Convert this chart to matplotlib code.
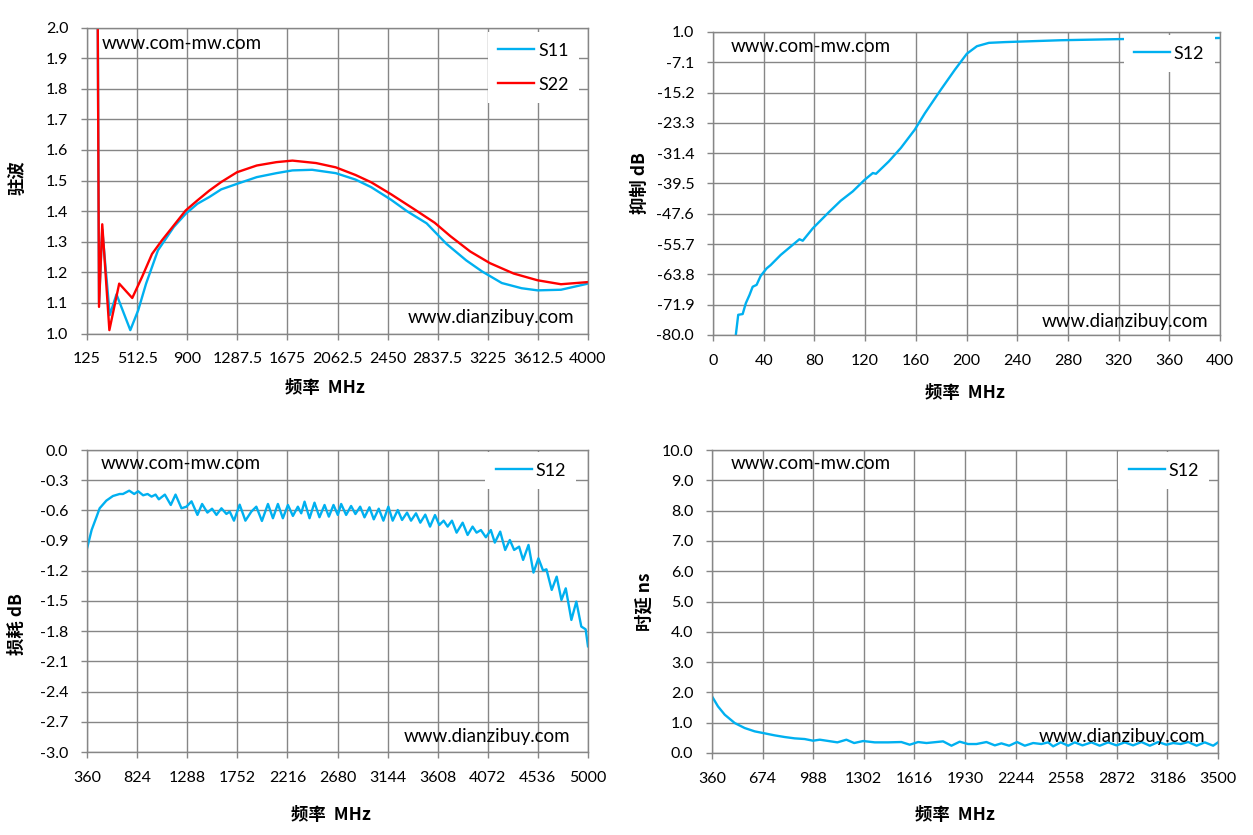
import matplotlib.pyplot as plt

plt.rcParams['font.family'] = ['Lato', 'DejaVu Sans']

BLUE = '#00B0F0'
RED = '#FF0000'
GRID = '#868686'
CJK = ['Noto Sans CJK SC', 'DejaVu Sans']
W, H = 1253, 835

# --- top left: 驻波 (VSWR) ---
vswr_freq_s11 = [202, 218, 243, 301, 353, 460, 521, 582, 674, 796, 888, 979, 1071, 1163,
                 1285, 1438, 1590, 1714, 1866, 2049, 2202, 2324, 2477, 2599, 2752, 2905,
                 3058, 3180, 3333, 3486, 3609, 3791, 4000]
vswr_s11 = [2.6, 1.10, 1.34, 1.06, 1.128, 1.011, 1.076, 1.163, 1.272, 1.348, 1.391, 1.424,
            1.446, 1.471, 1.489, 1.511, 1.524, 1.533, 1.535, 1.524, 1.503, 1.478, 1.437,
            1.400, 1.360, 1.293, 1.239, 1.203, 1.165, 1.148, 1.141, 1.143, 1.163]
vswr_freq_s22 = [202, 218, 243, 298, 374, 475, 551, 628, 704, 796, 888, 979, 1071, 1163,
                 1285, 1438, 1590, 1714, 1897, 2049, 2202, 2324, 2477, 2660, 2814, 2936,
                 3089, 3241, 3425, 3609, 3791, 4000]
vswr_s22 = [2.6, 1.087, 1.357, 1.011, 1.163, 1.116, 1.185, 1.26, 1.304, 1.353, 1.402, 1.435,
            1.467, 1.495, 1.527, 1.549, 1.560, 1.565, 1.557, 1.543, 1.518, 1.494, 1.455,
            1.405, 1.362, 1.318, 1.268, 1.230, 1.196, 1.174, 1.161, 1.168]
vswr_xticks = [125, 512.5, 900, 1287.5, 1675, 2062.5, 2450, 2837.5, 3225, 3612.5, 4000]
vswr_xlabels = ['125', '512.5', '900', '1287.5', '1675', '2062.5', '2450', '2837.5',
                '3225', '3612.5', '4000']
vswr_yticks = [1.0, 1.1, 1.2, 1.3, 1.4, 1.5, 1.6, 1.7, 1.8, 1.9, 2.0]

# --- top right: 抑制 dB (rejection) ---
rej_freq = [18.0, 19.9, 23.4, 25.9, 28.8, 31.3, 34.4, 37.6, 42.3, 45.5, 53.4, 62.9, 68.2,
            70.8, 78.7, 91.3, 100.8, 110.3, 119.7, 126.1, 128.6, 138.7, 148.2, 159.2,
            167.2, 179.8, 190.8, 200.3, 208.2, 217.7, 230.3, 274.6, 320.4, 400]
rej_db = [-80.0, -74.6, -74.4, -71.5, -69.3, -67.1, -66.6, -64.2, -62.2, -61.3, -58.6,
          -55.9, -54.4, -54.8, -51.5, -47.2, -44.1, -41.6, -38.5, -36.7, -36.9, -33.6,
          -30.0, -25.1, -20.7, -14.4, -9.1, -4.8, -2.8, -1.9, -1.7, -1.2, -0.9, -0.6]
rej_xticks = [0, 40, 80, 120, 160, 200, 240, 280, 320, 360, 400]
rej_yticks = [1.0, -7.1, -15.2, -23.3, -31.4, -39.5, -47.6, -55.7, -63.8, -71.9, -80.0]

# --- bottom left: 损耗 dB (insertion loss) ---
loss_freq = [360, 403, 449, 477, 539, 600, 662, 693, 751, 797, 834, 880, 921, 958, 995,
             1025, 1081, 1136, 1180, 1235, 1281, 1328, 1383, 1426, 1475, 1518, 1559, 1605,
             1651, 1682, 1721, 1774, 1827, 1882, 1928, 1980, 2036, 2082, 2128, 2174, 2221,
             2267, 2313, 2344, 2375, 2421, 2467, 2513, 2560, 2600, 2643, 2683, 2714, 2760,
             2806, 2846, 2890, 2930, 2976, 3016, 3062, 3105, 3151, 3191, 3238, 3278, 3324,
             3361, 3407, 3447, 3493, 3537, 3583, 3623, 3663, 3700, 3740, 3783, 3839, 3885,
             3931, 3968, 4008, 4054, 4100, 4137, 4187, 4233, 4276, 4316, 4362, 4399, 4449,
             4495, 4541, 4584, 4615, 4664, 4710, 4754, 4794, 4846, 4892, 4938, 4978, 5000]
loss_db = [-0.98, -0.794, -0.662, -0.579, -0.503, -0.457, -0.437, -0.437, -0.404, -0.437,
           -0.41, -0.45, -0.437, -0.463, -0.443, -0.49, -0.443, -0.546, -0.443, -0.579,
           -0.563, -0.51, -0.645, -0.536, -0.622, -0.583, -0.645, -0.579, -0.635, -0.612,
           -0.702, -0.543, -0.702, -0.612, -0.563, -0.705, -0.536, -0.678, -0.536, -0.678,
           -0.546, -0.655, -0.563, -0.629, -0.513, -0.678, -0.523, -0.668, -0.546, -0.662,
           -0.546, -0.645, -0.536, -0.645, -0.556, -0.636, -0.563, -0.669, -0.569, -0.689,
           -0.583, -0.702, -0.563, -0.702, -0.596, -0.695, -0.622, -0.702, -0.629, -0.722,
           -0.642, -0.761, -0.646, -0.745, -0.702, -0.761, -0.702, -0.821, -0.722, -0.844,
           -0.761, -0.821, -0.795, -0.867, -0.795, -0.920, -0.811, -0.993, -0.894, -0.993,
           -0.960, -1.092, -0.943, -1.218, -1.076, -1.198, -1.185, -1.390, -1.258, -1.490,
           -1.374, -1.688, -1.506, -1.754, -1.781, -1.95]
loss_xticks = [360, 824, 1288, 1752, 2216, 2680, 3144, 3608, 4072, 4536, 5000]
loss_yticks = [0.0, -0.3, -0.6, -0.9, -1.2, -1.5, -1.8, -2.1, -2.4, -2.7, -3.0]

# --- bottom right: 时延 ns (group delay) ---
delay_freq = [360, 397, 439, 501, 563, 625, 677, 749, 811, 873, 935, 987, 1029, 1070, 1138,
              1194, 1242, 1298, 1370, 1453, 1535, 1587, 1639, 1691, 1794, 1846, 1897, 1949,
              2001, 2063, 2115, 2156, 2204, 2253, 2301, 2353, 2404, 2446, 2477, 2524, 2570,
              2611, 2659, 2715, 2766, 2818, 2870, 2922, 2973, 3025, 3077, 3129, 3180, 3222,
              3269, 3315, 3367, 3418, 3470, 3500]
delay_ns = [1.87, 1.539, 1.264, 0.989, 0.824, 0.714, 0.659, 0.582, 0.527, 0.483, 0.461,
            0.406, 0.439, 0.406, 0.351, 0.439, 0.329, 0.395, 0.351, 0.351, 0.362, 0.274,
            0.362, 0.329, 0.384, 0.241, 0.373, 0.296, 0.296, 0.362, 0.252, 0.318, 0.241,
            0.362, 0.241, 0.329, 0.296, 0.351, 0.219, 0.351, 0.241, 0.351, 0.252, 0.351,
            0.241, 0.351, 0.252, 0.351, 0.252, 0.362, 0.241, 0.362, 0.274, 0.329, 0.296,
            0.362, 0.241, 0.351, 0.241, 0.351]
delay_xticks = [360, 674, 988, 1302, 1616, 1930, 2244, 2558, 2872, 3186, 3500]
delay_yticks = [0.0, 1.0, 2.0, 3.0, 4.0, 5.0, 6.0, 7.0, 8.0, 9.0, 10.0]


def add_axes_px(fig, x0, y0, x1, y1):
    return fig.add_axes([x0 / W, 1 - y1 / H, (x1 - x0) / W, (y1 - y0) / H])


def style_axes(ax, xticks, xlabels, yticks, xlabel, ylabel, xlab_pos, ylab_pos):
    ax.set_xlim(min(xticks), max(xticks))
    ax.set_ylim(min(yticks), max(yticks))
    ax.set_xticks(xticks, xlabels)
    ax.set_yticks(yticks, ['%.1f' % v for v in yticks])
    ax.grid(True, color=GRID, linewidth=1)
    ax.set_axisbelow(True)
    for s in ax.spines.values():
        s.set_color(GRID)
        s.set_linewidth(1)
    ax.tick_params(direction='out', length=4, width=1, color=GRID,
                   labelsize=11.5, pad=9.5)
    ax.set_xlabel(xlabel, family=CJK, fontweight='bold', fontsize=12.5, va='center')
    ax.set_ylabel(ylabel, family=CJK, fontweight='bold', fontsize=12.5, va='center')
    ax.xaxis.set_label_coords(*xlab_pos)
    ax.yaxis.set_label_coords(*ylab_pos)


def watermarks(ax, top_pos, bottom_pos):
    ax.text(top_pos[0], top_pos[1], 'www.com-mw.com', transform=ax.transAxes,
            ha='left', va='center', fontsize=13.5, zorder=6)
    ax.text(bottom_pos[0], bottom_pos[1], 'www.dianzibuy.com', transform=ax.transAxes,
            ha='right', va='center', fontsize=13.5, zorder=6)


def legend(ax, anchor):
    ax.legend(loc='upper left', bbox_to_anchor=anchor, borderaxespad=0, frameon=True,
              facecolor='white', edgecolor='none', framealpha=1, fancybox=False,
              fontsize=13, handlelength=2.0, handletextpad=0.2, borderpad=0.58,
              labelspacing=1.0)


fig = plt.figure(figsize=(W / 100, H / 100), dpi=100)

# top left
ax1 = add_axes_px(fig, 87, 27.5, 588, 333.5)
ax1.plot(vswr_freq_s11, vswr_s11, color=BLUE, lw=1.7, label='S11', solid_joinstyle='round')
ax1.plot(vswr_freq_s22, vswr_s22, color=RED, lw=1.7, label='S22', solid_joinstyle='round')
style_axes(ax1, vswr_xticks, vswr_xlabels, vswr_yticks, '频率  MHz', '驻波',
           (0.475, -0.178), (-0.138, 0.508))
watermarks(ax1, (0.030, 0.949), (0.972, 0.051))
legend(ax1, (0.800, 0.985))

# top right
ax2 = add_axes_px(fig, 713, 32, 1220, 335)
ax2.plot(rej_freq, rej_db, color=BLUE, lw=1.7, label='S12', solid_joinstyle='round')
style_axes(ax2, rej_xticks, [str(v) for v in rej_xticks], rej_yticks, '频率  MHz',
           '抑制 dB', (0.497, -0.191), (-0.144, 0.502))
watermarks(ax2, (0.035, 0.951), (0.976, 0.044))
legend(ax2, (0.81, 0.99))

# bottom left
ax3 = add_axes_px(fig, 87, 450, 588, 752)
ax3.plot(loss_freq, loss_db, color=BLUE, lw=1.7, label='S12', solid_joinstyle='round')
style_axes(ax3, loss_xticks, [str(v) for v in loss_xticks], loss_yticks, '频率  MHz',
           '损耗 dB', (0.487, -0.209), (-0.140, 0.424))
watermarks(ax3, (0.027, 0.954), (0.964, 0.051))
legend(ax3, (0.795, 0.993))

# bottom right
ax4 = add_axes_px(fig, 712, 450, 1218, 753)
ax4.plot(delay_freq, delay_ns, color=BLUE, lw=1.7, label='S12', solid_joinstyle='round')
style_axes(ax4, delay_xticks, [str(v) for v in delay_xticks], delay_yticks, '频率  MHz',
           '时延 ns', (0.480, -0.205), (-0.134, 0.498))
watermarks(ax4, (0.036, 0.954), (0.974, 0.054))
legend(ax4, (0.803, 0.993))

fig.savefig('out.png', dpi=100)
